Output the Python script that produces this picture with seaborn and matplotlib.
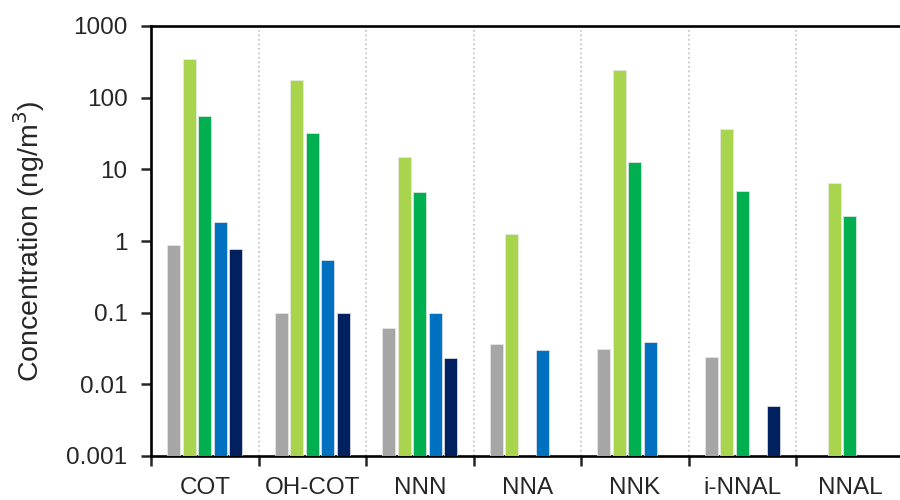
import matplotlib
matplotlib.use("Agg")
import matplotlib.pyplot as plt
import numpy as np
import pandas as pd
import seaborn as sns
from matplotlib.ticker import FixedLocator, FuncFormatter, NullFormatter

compounds = ["COT", "OH-COT", "NNN", "NNA", "NNK", "i-NNAL", "NNAL"]
series = ["S1", "S2", "S3", "S4", "S5"]
colors = ["#A6A6A6", "#A9D44E", "#00B050", "#0070C0", "#002060"]

# values per series, one per compound (None = not detected)
s1 = [0.87, 0.10, 0.061, 0.036, 0.031, 0.024, None]
s2 = [342, 174, 15, 1.25, 243, 37, 6.4]
s3 = [55, 32, 4.9, None, 12.5, 5.0, 2.25]
s4 = [1.84, 0.54, 0.098, 0.030, 0.039, None, None]
s5 = [0.77, 0.098, 0.023, None, None, 0.005, None]

rows = []
for name, vals in zip(series, [s1, s2, s3, s4, s5]):
    for c, v in zip(compounds, vals):
        rows.append({"Compound": c, "Series": name, "Value": np.nan if v is None else v})
data = pd.DataFrame(rows)

sns.set_style("white")
plt.rcParams['font.family'] = ['Liberation Sans', 'DejaVu Sans']

fig = plt.figure(figsize=(9, 5), dpi=100)
ax = fig.add_axes([0.168, 0.088, 0.836, 0.86])
ax.set_yscale("log")

sns.barplot(data=data, x="Compound", y="Value", hue="Series", order=compounds,
            hue_order=series, palette=colors, saturation=1, width=0.72, gap=0.16,
            edgecolor="#E8E8E8", linewidth=0.5, legend=False, ax=ax, zorder=3)

for b in np.arange(0.5, len(compounds) - 0.5, 1):
    ax.axvline(b, color="#C8C8C8", linestyle=(0, (1, 1.5)), linewidth=1.3, zorder=1)

ax.set_xlim(-0.5, len(compounds) - 0.5)
ax.set_ylim(0.001, 1000)

yt = [0.001, 0.01, 0.1, 1, 10, 100, 1000]
ax.yaxis.set_major_locator(FixedLocator(yt))
ax.yaxis.set_minor_locator(FixedLocator([]))
ax.yaxis.set_major_formatter(FuncFormatter(lambda v, p: f"{v:g}"))
ax.tick_params(axis="y", which="major", direction="out", length=7, width=1.8,
               labelsize=17.5, pad=10, left=True)

ax.xaxis.set_major_locator(FixedLocator(np.arange(-0.5, len(compounds), 1)))
ax.xaxis.set_major_formatter(NullFormatter())
ax.xaxis.set_minor_locator(FixedLocator(np.arange(len(compounds))))
ax.set_xticklabels(compounds, minor=True)
ax.tick_params(axis="x", which="major", direction="out", length=7, width=1.8, bottom=True)
ax.tick_params(axis="x", which="minor", length=0, labelsize=17.5, pad=15)

for side in ["left", "bottom", "top"]:
    ax.spines[side].set_linewidth(1.9)
    ax.spines[side].set_color("black")
ax.spines["right"].set_visible(False)

ax.set_xlabel("")
ax.set_ylabel("Concentration (ng/m$^3$)", fontsize=20.5, labelpad=14)

fig.savefig("out.png", dpi=100)
